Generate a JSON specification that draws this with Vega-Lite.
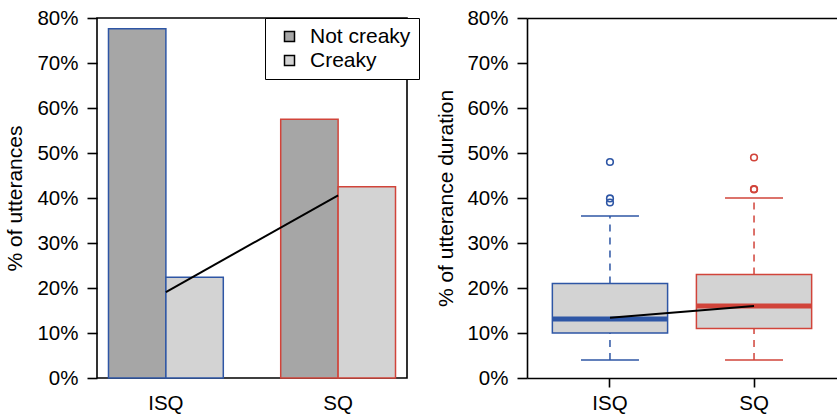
{
  "$schema": "https://vega.github.io/schema/vega-lite/v6.json",
  "autosize": {"type": "pad"},
  "padding": {"left": 3, "top": 7, "right": 0, "bottom": 0},
  "background": "white",
  "bounds": "flush",
  "spacing": 120,
  "config": {
    "font": "Liberation Sans",
    "view": {"stroke": "black", "strokeWidth": 1.6},
    "axis": {
      "labelFont": "Liberation Sans",
      "labelFontSize": 20.5,
      "labelColor": "black",
      "titleFont": "Liberation Sans",
      "titleFontSize": 21,
      "titleFontWeight": "normal",
      "titleColor": "black",
      "tickColor": "black",
      "tickWidth": 1.6,
      "domainColor": "black",
      "domainWidth": 1.6,
      "grid": false
    },
    "legend": {"labelFont": "Liberation Sans"}
  },
  "datasets": {
    "bars": [
      {"group": "ISQ", "type": "Not creaky", "pct": 77.6},
      {"group": "ISQ", "type": "Creaky", "pct": 22.4},
      {"group": "SQ", "type": "Not creaky", "pct": 57.5},
      {"group": "SQ", "type": "Creaky", "pct": 42.5}
    ],
    "trend1": [
      {"group": "ISQ", "pct": 19.1},
      {"group": "SQ", "pct": 40.6}
    ],
    "boxes": [
      {"group": "ISQ", "lower": 4, "q1": 10, "median": 13.1, "q3": 21, "upper": 36},
      {"group": "SQ", "lower": 4, "q1": 11, "median": 16, "q3": 23, "upper": 40}
    ],
    "outliers": [
      {"group": "ISQ", "value": 48},
      {"group": "ISQ", "value": 39.9},
      {"group": "ISQ", "value": 39.0},
      {"group": "SQ", "value": 49},
      {"group": "SQ", "value": 42},
      {"group": "SQ", "value": 41.9}
    ],
    "trend2": [
      {"group": "ISQ", "pct": 13.4},
      {"group": "SQ", "pct": 16.0}
    ]
  },
  "resolve": {"scale": {"fill": "independent", "stroke": "independent", "x": "independent", "y": "independent"}, "legend": {"fill": "independent"}},
  "hconcat": [
    {
      "width": 310,
      "height": 360,
      "layer": [
        {
          "data": {"name": "bars"},
          "mark": {"type": "bar", "strokeWidth": 1.5},
          "encoding": {
            "x": {"field": "group", "type": "nominal", "sort": ["ISQ", "SQ"],
              "scale": {"paddingInner": 0.3333, "paddingOuter": 0.0667},
              "axis": {"title": null, "labelAngle": 0, "ticks": false, "tickSize": 0, "domain": false, "labelPadding": 15}},
            "xOffset": {"field": "type", "type": "nominal", "sort": ["Not creaky", "Creaky"],
              "scale": {"paddingInner": 0, "paddingOuter": 0}},
            "y": {"field": "pct", "type": "quantitative",
              "scale": {"domain": [0, 80], "nice": false, "zero": true},
              "axis": {"title": "% of utterances", "values": [0, 10, 20, 30, 40, 50, 60, 70, 80],
                "labelExpr": "datum.value + '%'", "tickSize": 10, "labelPadding": 9, "domain": false,
                "titleX": -72, "titleY": 180, "titleAngle": -90, "titleBaseline": "bottom", "titleAlign": "center"}},
            "fill": {"field": "type", "type": "nominal",
              "scale": {"domain": ["Not creaky", "Creaky"], "range": ["#A6A6A6", "#D3D3D3"]},
              "legend": {"title": null, "orient": "none", "legendX": 168, "legendY": 0,
                "strokeColor": "black", "fillColor": "white",
                "padding": 8, "symbolType": "square", "symbolSize": 100,
                "symbolStrokeColor": "black", "symbolStrokeWidth": 1.5,
                "symbolOffset": 6, "labelFontSize": 21, "labelColor": "black",
                "labelOffset": 10, "rowPadding": 2}},
            "stroke": {"field": "group", "type": "nominal",
              "scale": {"domain": ["ISQ", "SQ"], "range": ["#2E56A5", "#D1443A"]}, "legend": null}
          }
        },
        {
          "data": {"name": "trend1"},
          "mark": {"type": "line", "color": "black", "strokeWidth": 2},
          "encoding": {
            "x": {"field": "group", "type": "nominal", "sort": ["ISQ", "SQ"]},
            "y": {"field": "pct", "type": "quantitative"}
          }
        }
      ]
    },
    {
      "width": 310,
      "height": 360,
      "view": {"stroke": null},
      "resolve": {"axis": {"x": "independent"}},
      "layer": [
        {
          "data": {"name": "boxes"},
          "mark": {"type": "rule", "strokeDash": [7, 6], "strokeWidth": 1.5},
          "encoding": {
            "x": {"field": "group", "type": "nominal", "sort": ["ISQ", "SQ"],
              "scale": {"paddingInner": 0.2, "paddingOuter": 0.176},
              "axis": {"title": null, "labelAngle": 0, "tickSize": 9, "labelPadding": 6, "domain": true}},
            "y": {"field": "q3", "type": "quantitative",
              "scale": {"domain": [0, 80], "nice": false, "zero": true},
              "axis": {"title": "% of utterance duration", "values": [0, 10, 20, 30, 40, 50, 60, 70, 80],
                "labelExpr": "datum.value + '%'", "tickSize": 10, "labelPadding": 9, "domain": true,
                "titleX": -71, "titleY": 180, "titleAngle": -90, "titleBaseline": "bottom", "titleAlign": "center"}},
            "y2": {"field": "upper"},
            "stroke": {"field": "group", "type": "nominal",
              "scale": {"domain": ["ISQ", "SQ"], "range": ["#2E56A5", "#D1443A"]}, "legend": null}
          }
        },
        {
          "data": {"name": "boxes"},
          "mark": {"type": "rule", "strokeDash": [7, 6], "strokeWidth": 1.5},
          "encoding": {
            "x": {"field": "group", "type": "nominal", "sort": ["ISQ", "SQ"], "axis": null},
            "y": {"field": "lower", "type": "quantitative"},
            "y2": {"field": "q1"},
            "stroke": {"field": "group", "type": "nominal", "legend": null}
          }
        },
        {
          "data": {"name": "boxes"},
          "mark": {"type": "tick", "size": 58, "thickness": 1.5, "opacity": 1},
          "encoding": {
            "x": {"field": "group", "type": "nominal", "sort": ["ISQ", "SQ"], "axis": null},
            "y": {"field": "upper", "type": "quantitative"},
            "color": {"field": "group", "type": "nominal",
              "scale": {"domain": ["ISQ", "SQ"], "range": ["#2E56A5", "#D1443A"]}, "legend": null}
          }
        },
        {
          "data": {"name": "boxes"},
          "mark": {"type": "tick", "size": 58, "thickness": 1.5, "opacity": 1},
          "encoding": {
            "x": {"field": "group", "type": "nominal", "sort": ["ISQ", "SQ"], "axis": null},
            "y": {"field": "lower", "type": "quantitative"},
            "color": {"field": "group", "type": "nominal", "legend": null}
          }
        },
        {
          "data": {"name": "boxes"},
          "mark": {"type": "bar", "fill": "#D3D3D3", "strokeWidth": 1.5},
          "encoding": {
            "x": {"field": "group", "type": "nominal", "sort": ["ISQ", "SQ"], "axis": null},
            "y": {"field": "q1", "type": "quantitative"},
            "y2": {"field": "q3"},
            "stroke": {"field": "group", "type": "nominal", "legend": null}
          }
        },
        {
          "data": {"name": "boxes"},
          "mark": {"type": "tick", "size": 114, "thickness": 5, "opacity": 1},
          "encoding": {
            "x": {"field": "group", "type": "nominal", "sort": ["ISQ", "SQ"], "axis": null},
            "y": {"field": "median", "type": "quantitative"},
            "color": {"field": "group", "type": "nominal", "legend": null}
          }
        },
        {
          "data": {"name": "outliers"},
          "mark": {"type": "point", "shape": "circle", "filled": false, "size": 44, "strokeWidth": 1.6, "opacity": 1},
          "encoding": {
            "x": {"field": "group", "type": "nominal", "sort": ["ISQ", "SQ"], "axis": null},
            "y": {"field": "value", "type": "quantitative"},
            "color": {"field": "group", "type": "nominal", "legend": null}
          }
        },
        {
          "data": {"name": "trend2"},
          "mark": {"type": "line", "color": "black", "strokeWidth": 2},
          "encoding": {
            "x": {"field": "group", "type": "nominal", "sort": ["ISQ", "SQ"],
              "axis": {"orient": "top", "labels": false, "ticks": false, "domain": true, "title": null}},
            "y": {"field": "pct", "type": "quantitative"}
          }
        }
      ]
    }
  ]
}
